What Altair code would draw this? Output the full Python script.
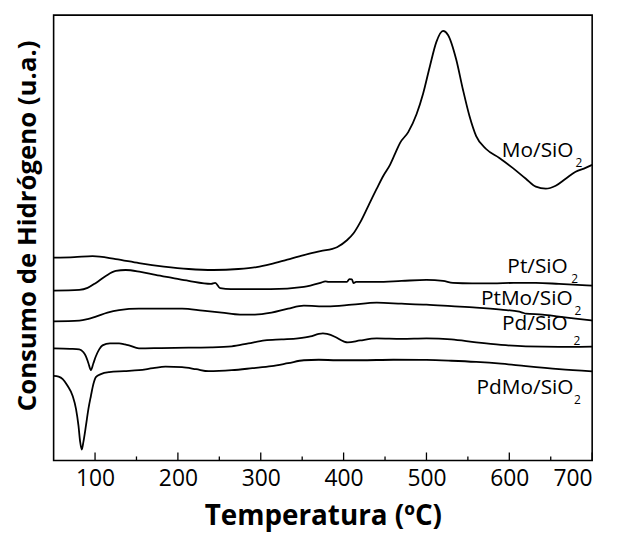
import altair as alt
import pandas as pd

# Temperature (ºC) and hydrogen consumption (arbitrary units, stacked offsets)
mo_T = [50, 75, 97, 125, 153, 183, 213, 243, 273, 295, 312, 332, 352, 372, 392, 404, 412, 420, 430, 440, 448, 456, 462, 468, 478, 488, 496, 504, 512, 520, 526, 536, 544, 552, 560, 572, 588, 604, 620, 632, 644, 656, 668, 680, 692, 700]
mo_v = [204.5, 205, 206, 203, 199, 195.5, 193, 192, 193, 195, 198, 202.5, 207, 211, 215, 222, 229, 240, 257, 274, 287, 298, 309, 320, 331, 349, 370, 397, 422, 433, 429, 404, 374, 347, 327, 314, 305, 295, 284, 276, 274, 277, 284, 291, 295, 298]

pt_T = [50, 81, 91, 101, 113, 125, 137, 155, 173, 193, 213, 240, 245, 251, 264, 290, 312, 352, 372, 378, 382, 404, 407, 410, 412, 415, 440, 470, 500, 520, 532, 555, 580, 605, 632, 660, 700]
pt_v = [171.3, 172, 174, 179, 186, 191, 192, 190, 187, 184, 181, 178, 179, 173.7, 172.7, 172.7, 172.7, 175, 179, 180.5, 180, 180, 182.7, 182.5, 178.7, 180, 180, 181, 182, 181, 179, 178.5, 178.5, 179, 179, 178, 176.3]

ptmo_T = [50, 81, 91, 101, 115, 129, 153, 180, 205, 230, 253, 275, 293, 313, 333, 352, 380, 410, 440, 470, 500, 530, 560, 590, 612, 616, 620, 640, 660, 680, 700]
ptmo_v = [140.3, 141, 142.5, 145, 149, 151.5, 153, 153, 153, 151, 149, 147, 147, 149, 153, 156, 155.3, 157, 159, 158, 157, 155.5, 154, 152, 150, 149, 148, 147, 145, 143, 141]

pd_T = [50, 70, 81, 86, 89, 92, 95, 98, 101, 105, 109, 118, 129, 136, 141, 153, 180, 213, 240, 265, 285, 305, 325, 345, 360, 370, 375, 380, 390, 400, 405, 420, 440, 470, 500, 530, 560, 590, 620, 660, 700]
pd_v = [113, 112.5, 112, 109, 105, 98, 91, 98, 105, 112, 116, 118, 118, 117, 116, 113, 113.3, 113.7, 114, 115, 118, 121, 122, 123, 125, 127.5, 128, 127.5, 124.5, 120, 119, 121, 123, 122.5, 123, 122, 119, 116.5, 115, 114.5, 114.7]

pdmo_T = [50, 56, 61, 67, 73, 77, 80, 82, 84, 86, 89, 92, 95, 98, 101, 107, 117, 135, 153, 170, 185, 205, 222, 237, 265, 290, 313, 333, 352, 370, 392, 420, 460, 500, 530, 560, 590, 620, 660, 700]
pdmo_v = [85.3, 84.5, 82, 75, 65, 52, 35, 19, 11, 19, 35, 52, 65, 77, 84, 87, 89, 90, 91, 93, 94.5, 94, 92, 90, 91, 93, 95, 98, 101, 101.5, 101, 101, 101.5, 101.3, 100.5, 99.3, 97.5, 95, 92, 89.7]

series_names = ["Mo", "Pt", "PtMo", "Pd", "PdMo"]

# Curve labels (main text right end and subscript start, in data units)
label_text = ["Mo/SiO", "Pt/SiO", "PtMo/SiO", "Pd/SiO", "PdMo/SiO"]
label_T = [677.5, 670.6, 676.4, 670.6, 677.5]
label_v = [305.5, 189, 157, 132, 67]
sub_T = [679.9, 674.9, 678.8, 677.6, 678.0]
sub_v = [296, 179, 147, 116, 57]

major_ticks = [100, 200, 300, 400, 500, 600, 700]
minor_ticks = [150, 250, 350, 450, 550, 650]

rows = []
for name, Ts, Vs in zip(series_names,
                         [mo_T, pt_T, ptmo_T, pd_T, pdmo_T],
                         [mo_v, pt_v, ptmo_v, pd_v, pdmo_v]):
    for t, v in zip(Ts, Vs):
        rows.append({"series": name, "T": t, "v": v})
curves = pd.DataFrame(rows)

labels = pd.DataFrame({"text": label_text, "T": label_T, "v": label_v})
subs = pd.DataFrame({"text": ["2"] * 5, "T": sub_T, "v": sub_v})
majors = pd.DataFrame({"T": major_ticks})
minors = pd.DataFrame({"T": minor_ticks})

FONT = "Open Sans"
xscale = alt.Scale(domain=[50, 700], nice=False, zero=False)
yscale = alt.Scale(domain=[0, 449], nice=False, zero=False)

x_axis = alt.Axis(
    values=major_ticks, ticks=False, domain=False, grid=False,
    labelFont=FONT, labelFontSize=23, labelColor="black", labelPadding=7,
    title="Temperatura (ºC)", titleFont=FONT, titleFontSize=28,
    titleFontWeight="bold", titleColor="black",
    titleY=65, titleBaseline="alphabetic",
)
y_axis = alt.Axis(
    labels=False, ticks=False, domain=False, grid=False,
    title="Consumo de Hidrógeno (u.a.)", titleFont=FONT, titleFontSize=26,
    titleFontWeight="bold", titleColor="black",
    titleX=-18, titleY=212, titleAngle=270, titleAlign="center",
    titleBaseline="alphabetic",
)

lines = alt.Chart(curves).mark_line(
    color="black", strokeWidth=1.8, interpolate="monotone"
).encode(
    x=alt.X("T:Q", scale=xscale, axis=x_axis),
    y=alt.Y("v:Q", scale=yscale, axis=y_axis),
    detail="series:N",
)

label_marks = alt.Chart(labels).mark_text(
    align="right", baseline="alphabetic", font=FONT, fontSize=21, color="black"
).encode(x=alt.X("T:Q", scale=xscale), y=alt.Y("v:Q", scale=yscale), text="text:N")

sub_marks = alt.Chart(subs).mark_text(
    align="left", baseline="alphabetic", font=FONT, fontSize=12, color="black"
).encode(x=alt.X("T:Q", scale=xscale), y=alt.Y("v:Q", scale=yscale), text="text:N")

major_rules = alt.Chart(majors).mark_rule(color="black", strokeWidth=1.3).encode(
    x=alt.X("T:Q", scale=xscale), y=alt.value(449), y2=alt.value(441)
)
minor_rules = alt.Chart(minors).mark_rule(color="black", strokeWidth=1.3).encode(
    x=alt.X("T:Q", scale=xscale), y=alt.value(449), y2=alt.value(445)
)

chart = alt.layer(lines, major_rules, minor_rules, label_marks, sub_marks).properties(
    width=543, height=449,
    autosize=alt.AutoSizeParams(type="none"),
    padding={"left": 46, "top": 5, "right": 20, "bottom": 70},
).configure_view(stroke="black", strokeWidth=1.6)

chart.save("out.html", embed_options={"renderer": "svg", "actions": False})
